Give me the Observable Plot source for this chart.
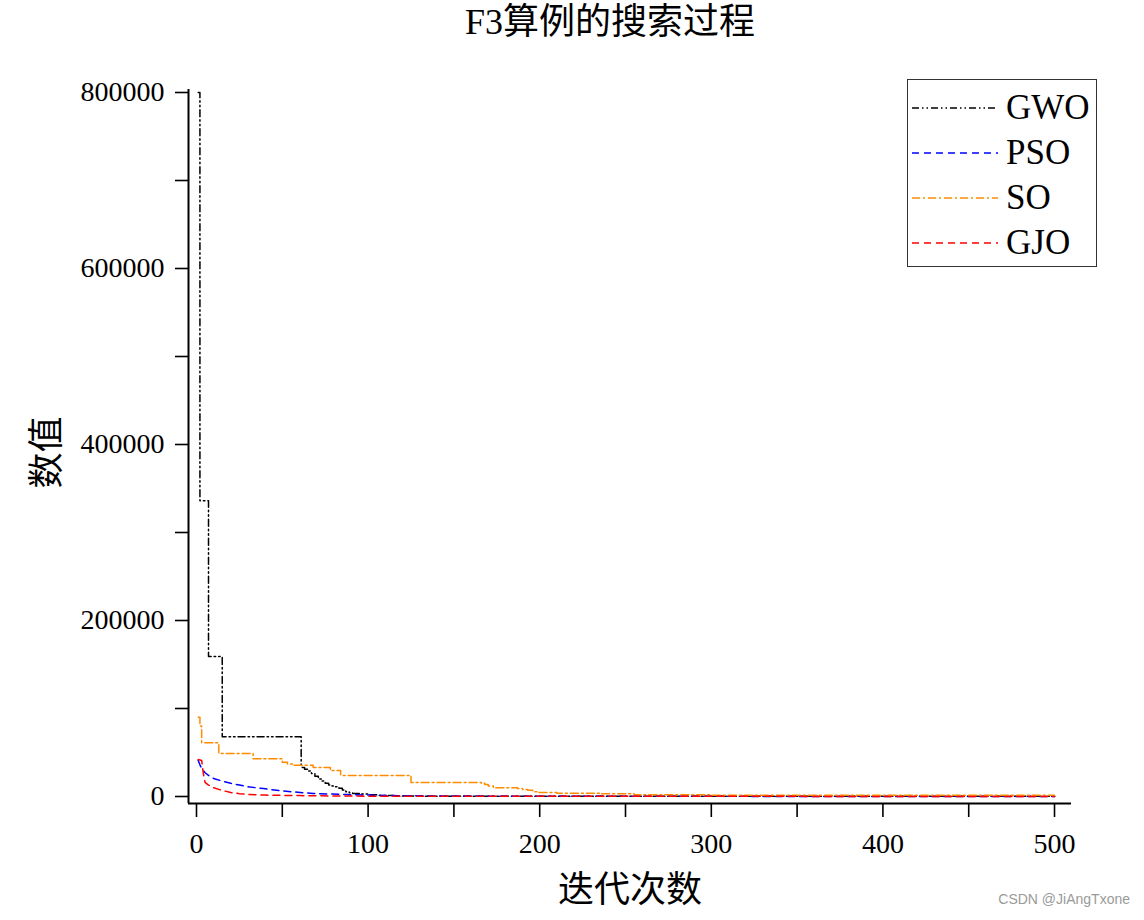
<!DOCTYPE html>
<html>
<head>
<meta charset="utf-8">
<script src="https://cdn.jsdelivr.net/npm/d3@7"></script>
<script src="https://cdn.jsdelivr.net/npm/@observablehq/plot@0.6"></script>
<style>
  body { margin: 0; background: #fff; }
  #wrap { position: relative; width: 1144px; height: 920px; overflow: hidden; background: #fff; }
  #title { position: absolute; left: 360px; top: 0; width: 500px; height: 46px; line-height: 44px;
           text-align: center; font-size: 36px; font-family: "Liberation Serif", "Noto Sans CJK SC", serif; color: #000; }
  #chart { position: absolute; left: 0; top: 46px; }
  #legend { position: absolute; left: 907px; top: 79px; width: 188px; height: 186px; border: 1px solid #333; background: #fff; }
  .entry { position: absolute; left: 0; width: 188px; height: 40px; }
  .entry svg { position: absolute; left: 4px; top: 0; }
  .entry span { position: absolute; left: 98px; top: 0; line-height: 40px; font-size: 35px;
                font-family: "Liberation Serif", serif; color: #000; white-space: nowrap; }
  #mark { position: absolute; right: 14px; top: 891px; font-size: 14px; font-family: "Liberation Sans", Arial, sans-serif; color: #9a9a9a; }
</style>
</head>
<body>
<div id="wrap">
  <div id="title">F3算例的搜索过程</div>
  <div id="chart"></div>
  <div id="legend"></div>
  <div id="mark">CSDN @JiAngTxone</div>
</div>
<script>
// ---- data ----
const seriesNames = ["GWO", "PSO", "SO", "GJO"];
const seriesColors = ["#000000", "#0000ff", "#ff8c00", "#ff0000"];
const seriesDash = ["7,3,1.5,3,1.5,3", "7,5", "8,3,2,3", "7,5"];

const iterGWO = [1, 2, 7, 15, 61, 63, 65, 67, 69, 71, 73, 75, 77, 79, 81, 83, 85, 87, 89, 91, 95, 100, 105, 115, 130, 160, 500];
const valGWO  = [800000, 336000, 159000, 68000, 33000, 31000, 29000, 26000, 23000, 20000, 17500, 15000, 13000, 12000, 11000, 9500, 7500, 5500, 4200, 3500, 2800, 2000, 1200, 700, 400, 200, 100];

const iterPSO = [1, 2, 3, 5, 7, 10, 15, 20, 25, 30, 39, 49, 59, 68, 78, 88, 100, 120, 150, 200, 300, 500];
const valPSO  = [41000, 36000, 32000, 27000, 24000, 20500, 17500, 15000, 13000, 11000, 9000, 6500, 4800, 3500, 2800, 2200, 1600, 900, 500, 300, 150, 80];

const iterSO = [1, 2, 3, 13, 33, 50, 53, 56, 68, 78, 84, 125, 166, 168, 170, 173, 187, 190, 193, 196, 199, 210, 235, 255, 300, 500];
const valSO  = [90000, 80000, 61000, 49000, 43000, 39000, 37000, 35500, 33000, 29500, 24000, 16000, 15000, 13500, 12000, 10000, 9000, 8000, 7000, 5500, 4500, 3800, 3000, 2000, 1500, 1200];

const iterGJO = [1, 3, 4, 5, 7, 10, 14, 20, 25, 30, 40, 60, 80, 100, 150, 500];
const valGJO  = [42000, 41000, 26000, 16000, 13000, 10000, 7500, 4500, 3200, 2300, 1600, 1000, 600, 400, 200, 100];

const yTicks = d3.range(0, 800001, 100000);
const xTicks = d3.range(0, 501, 50);

const iters = [iterGWO, iterPSO, iterSO, iterGJO];
const vals = [valGWO, valPSO, valSO, valGJO];
const curves = ["step-after", "linear", "step-after", "linear"];

const xDomain = [-4.66, 509.9];
const yDomain = [-7955, 803409];

const lineMarks = seriesNames.map((name, k) => {
  const rows = iters[k].map((it, i) => ({ iter: it, value: vals[k][i], series: name }));
  return Plot.line(rows, {
    x: "iter", y: "value", stroke: seriesColors[k], strokeWidth: 1.5,
    strokeDasharray: seriesDash[k], curve: curves[k]
  });
});

const serif = "Liberation Serif, serif";
const cjk = "Liberation Serif, Noto Sans CJK SC, sans-serif";

const chart = Plot.plot({
  width: 1144,
  height: 874,
  marginLeft: 188,
  marginRight: 73,
  marginTop: 43,
  marginBottom: 117,
  style: { background: "transparent", overflow: "visible", fontFamily: serif, color: "#000" },
  x: { domain: xDomain },
  y: { domain: yDomain },
  marks: [
    ...lineMarks,
    Plot.ruleX([xDomain[0]], { stroke: "#000", strokeWidth: 2 }),
    Plot.ruleY([yDomain[0]], { stroke: "#000", strokeWidth: 2, x1: xDomain[0], x2: xDomain[1] }),
    Plot.axisY({
      ticks: yTicks, tickSize: 13, tickPadding: 11, strokeWidth: 1.6,
      tickFormat: d => (d % 200000 === 0 ? String(d) : ""),
      fontSize: 28, fontFamily: serif, label: null
    }),
    Plot.axisX({
      ticks: xTicks, tickSize: 14, tickPadding: 16, strokeWidth: 1.6,
      tickFormat: d => (d % 100 === 0 ? String(d) : ""),
      fontSize: 28, fontFamily: serif, label: null
    }),
    Plot.text(["迭代次数"], { frameAnchor: "bottom", dy: 87, lineAnchor: "middle", fontSize: 36, fontFamily: cjk, fill: "#000" }),
    Plot.text(["数值"], { frameAnchor: "left", dx: -141, dy: 6, rotate: -90, lineAnchor: "middle", textAnchor: "middle", fontSize: 36, fontFamily: cjk, fill: "#000" })
  ]
});
document.getElementById("chart").appendChild(chart);

// ---- legend ----
const legend = document.getElementById("legend");
const entryCenters = [27.5, 72.5, 117.5, 162.5];
seriesNames.forEach((name, k) => {
  const div = document.createElement("div");
  div.className = "entry";
  div.style.top = (entryCenters[k] - 20) + "px";
  div.innerHTML = `<svg width="86" height="40"><line x1="0" y1="20" x2="86" y2="20" stroke="${seriesColors[k]}" stroke-width="1.5" stroke-dasharray="${seriesDash[k]}"/></svg><span>${name}</span>`;
  legend.appendChild(div);
});
</script>
</body>
</html>
